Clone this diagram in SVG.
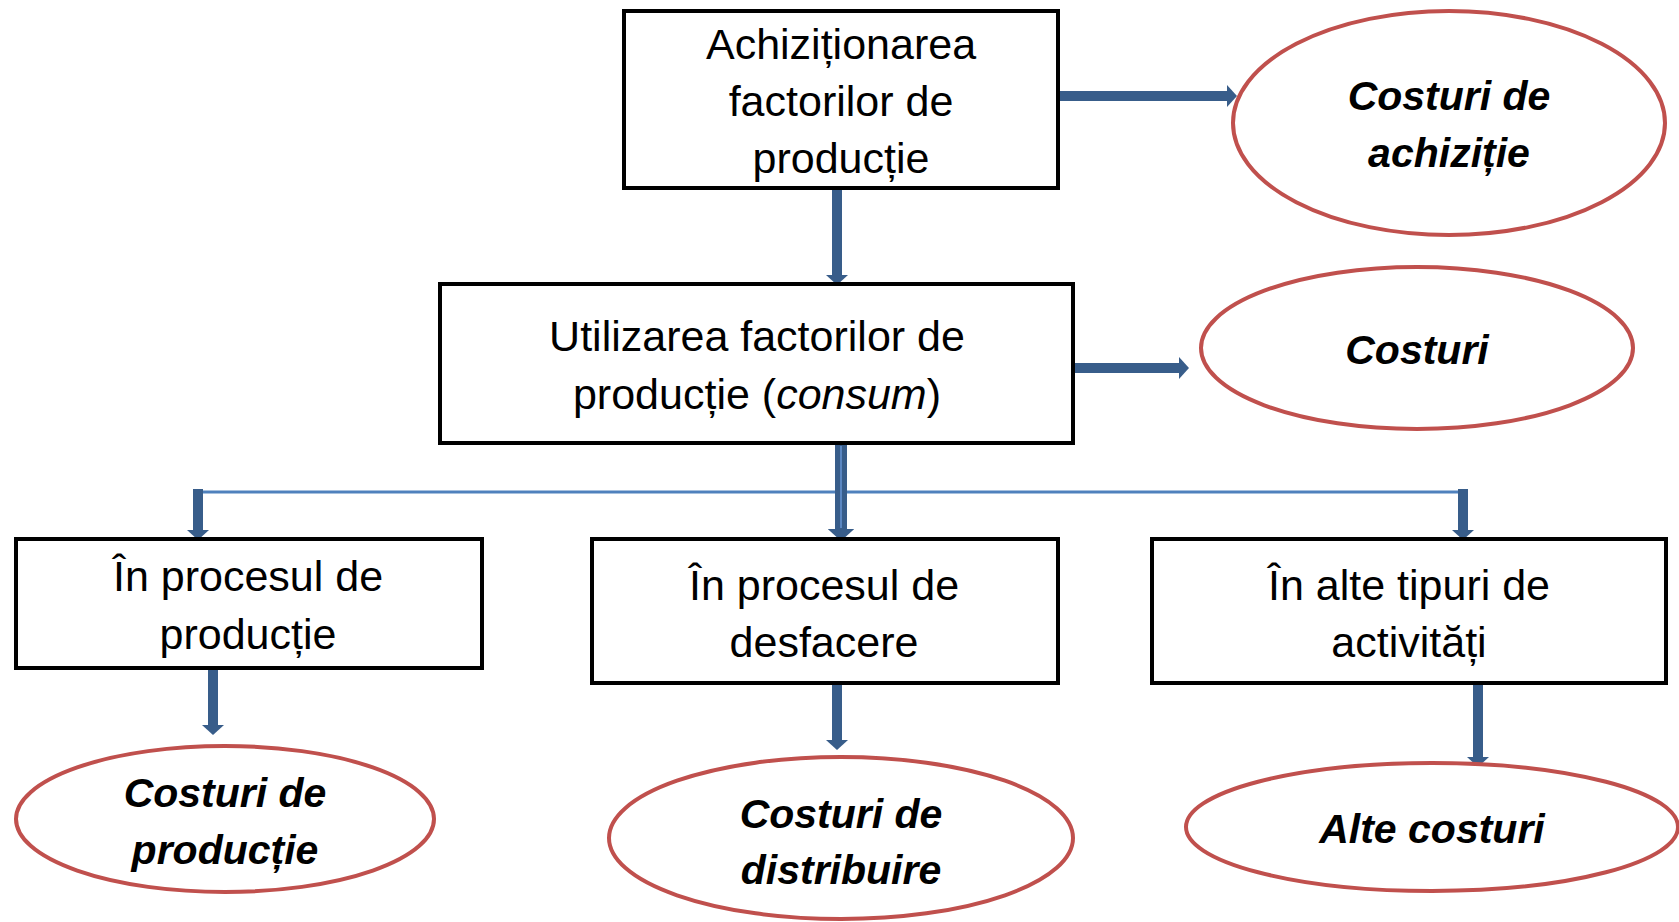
<svg xmlns="http://www.w3.org/2000/svg" width="1679" height="922" viewBox="0 0 1679 922">
<style>
.box{fill:#fff;stroke:#000;stroke-width:4}
.ell{fill:#fff;stroke:#C0504D;stroke-width:4}
.t{font-family:"Liberation Sans",Arial,sans-serif;font-size:43px;fill:#000;text-anchor:middle}
.e{font-family:"Liberation Sans",Arial,sans-serif;font-size:41px;font-weight:bold;font-style:italic;fill:#000;text-anchor:middle}
.ar{stroke:#385D8A;stroke-width:10;fill:none;marker-end:url(#ah)}
.thin{stroke:#4F81BD;stroke-width:3;fill:none}
</style>
<defs>
<marker id="ah" viewBox="0 0 10 22" refX="0" refY="11" markerWidth="1" markerHeight="2.2" orient="auto" markerUnits="strokeWidth">
<path d="M0,0 L10,11 L0,22 z" fill="#385D8A"/>
</marker>
</defs>
<rect width="1679" height="922" fill="#fff"/>
<g id="connectors">
<line class="ar" x1="1058" y1="96" x2="1227" y2="96"/>
<line class="ar" x1="837" y1="188" x2="837" y2="275"/>
<line class="ar" x1="1073" y1="368" x2="1179" y2="368"/>
<line class="thin" x1="198" y1="492" x2="1463" y2="492"/>
<line class="ar" style="stroke-width:12" x1="841" y1="443" x2="841" y2="529"/>
<line stroke="#5B87C2" stroke-width="2" x1="841" y1="446" x2="841" y2="528"/>
<line class="ar" x1="198" y1="489" x2="198" y2="530"/>
<line class="ar" x1="1463" y1="489" x2="1463" y2="530"/>
<line class="ar" x1="213" y1="668" x2="213" y2="725"/>
<line class="ar" x1="837" y1="683" x2="837" y2="740"/>
<line class="ar" x1="1478" y1="683" x2="1478" y2="757"/>
</g>
<g id="n1">
<rect class="box" x="624" y="11" width="434" height="177"/>
<text class="t" x="841" y="59">Achiziționarea</text>
<text class="t" x="841" y="116">factorilor de</text>
<text class="t" x="841" y="173">producție</text>
</g>
<g id="e1">
<ellipse class="ell" cx="1449" cy="123" rx="216" ry="112"/>
<text class="e" x="1449" y="110">Costuri de</text>
<text class="e" x="1449" y="167">achiziție</text>
</g>
<g id="n2">
<rect class="box" x="440" y="284" width="633" height="159"/>
<text class="t" x="757" y="351">Utilizarea factorilor de</text>
<text class="t" x="757" y="409">producție (<tspan font-style="italic">consum</tspan>)</text>
</g>
<g id="e2">
<ellipse class="ell" cx="1417" cy="348" rx="216" ry="81"/>
<text class="e" x="1417" y="364">Costuri</text>
</g>
<g id="n3">
<rect class="box" x="16" y="539" width="466" height="129"/>
<text class="t" x="248" y="591">În procesul de</text>
<text class="t" x="248" y="649">producție</text>
</g>
<g id="n4">
<rect class="box" x="592" y="539" width="466" height="144"/>
<text class="t" x="824" y="600">În procesul de</text>
<text class="t" x="824" y="657">desfacere</text>
</g>
<g id="n5">
<rect class="box" x="1152" y="539" width="514" height="144"/>
<text class="t" x="1409" y="600">În alte tipuri de</text>
<text class="t" x="1409" y="657">activități</text>
</g>
<g id="e3">
<ellipse class="ell" cx="225" cy="819" rx="209" ry="73"/>
<text class="e" x="225" y="807">Costuri de</text>
<text class="e" x="225" y="864">producție</text>
</g>
<g id="e4">
<ellipse class="ell" cx="841" cy="838" rx="232" ry="81"/>
<text class="e" x="841" y="828">Costuri de</text>
<text class="e" x="841" y="884">distribuire</text>
</g>
<g id="e5">
<ellipse class="ell" cx="1432" cy="827" rx="246" ry="64"/>
<text class="e" x="1432" y="843">Alte costuri</text>
</g>
</svg>
